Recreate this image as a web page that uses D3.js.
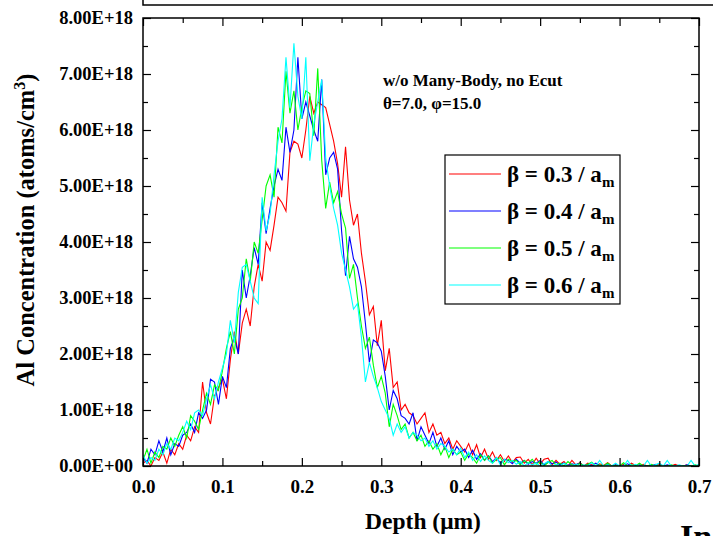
<!DOCTYPE html>
<html>
<head>
<meta charset="utf-8">
<script src="https://cdn.jsdelivr.net/npm/d3@7"></script>
<style>
  body { margin: 0; background: #fff; }
  svg { display: block; font-family: "Liberation Serif", "Times New Roman", serif; font-weight: bold; }
  .tick line { stroke: #000; stroke-width: 1.2; }
</style>
</head>
<body>
<div id="chart"></div>
<script>
// depth grid step (um); value i sits at depth i * depthStep
const depthStep = 0.005;

// Al concentration, units of 1E18 atoms/cm3
const beta03 = [0.05, 0.1, 0.0, 0.15, 0.1, 0.25, 0.05, 0.3, 0.2, 0.4,
  0.3, 0.55, 0.45, 0.7, 0.6, 1.5, 0.95, 0.75, 1.25, 1.4,
  1.55, 1.2, 1.9, 2.4, 2.0, 2.55, 2.8, 2.5, 3.2, 3.6,
  3.3, 4.0, 3.85, 4.3, 4.8, 4.7, 4.55, 5.6, 5.8, 5.75,
  5.5, 6.0, 6.6, 6.3, 6.5, 6.45, 6.4, 6.1, 5.8, 5.4,
  4.8, 5.7, 4.75, 4.3, 4.5, 3.8, 3.3, 2.7, 2.85, 2.15,
  2.6, 1.7, 2.1, 1.4, 1.5, 1.0, 1.1, 0.95, 0.9, 0.75,
  0.85, 0.95, 0.6, 0.75, 0.55, 0.6, 0.4, 0.5, 0.3, 0.45,
  0.35, 0.25, 0.4, 0.2, 0.38, 0.15, 0.3, 0.12, 0.25, 0.1,
  0.2, 0.08, 0.18, 0.06, 0.15, 0.16, 0.05, 0.12, 0.02, 0.14,
  0.04, 0.12, 0.14, 0.02, 0.1, 0.03, 0.08, 0.0, 0.1, 0.02,
  0.06, 0.0, 0.05, 0.02, 0.0, 0.04, 0.01, 0.06, 0.0, 0.02,
  0.0, 0.03, 0.0, 0.05, 0.01, 0.0, 0.03, 0.0, 0.02, 0.0,
  0.04, 0.0, 0.01, 0.0, 0.03, 0.0, 0.0, 0.02, 0.0, 0.01, 0.0];

const beta04 = [0.15, 0.05, 0.3, 0.2, 0.45, 0.25, 0.5, 0.2, 0.4, 0.35,
  0.55, 0.6, 0.75, 0.6, 0.95, 0.85, 1.0, 1.55, 1.5, 1.1,
  1.6, 1.4, 2.1, 2.3, 2.0, 3.5, 3.0, 3.4, 3.9, 3.6,
  4.7, 4.15, 4.6, 5.0, 5.3, 5.1, 6.05, 5.6, 6.0, 7.3,
  6.2, 6.5, 6.25, 6.0, 5.8, 6.9, 5.2, 5.5, 5.6, 5.3,
  4.2, 3.4, 4.1, 3.7, 3.55, 3.2, 2.55, 1.85, 2.25, 2.2,
  2.05, 1.6, 1.0, 1.35, 1.2, 0.9, 0.85, 0.75, 0.95, 0.45,
  0.7, 0.55, 0.4, 0.6, 0.35, 0.5, 0.3, 0.45, 0.2, 0.35,
  0.25, 0.3, 0.15, 0.28, 0.12, 0.22, 0.1, 0.18, 0.08, 0.15,
  0.05, 0.12, 0.1, 0.04, 0.12, 0.05, 0.1, 0.03, 0.08, 0.05,
  0.1, 0.02, 0.08, 0.04, 0.07, 0.02, 0.05, 0.01, 0.04, 0.02,
  0.05, 0.0, 0.03, 0.0, 0.05, 0.01, 0.0, 0.03, 0.0, 0.02,
  0.0, 0.01, 0.04, 0.0, 0.0, 0.02, 0.0, 0.01, 0.0, 0.03,
  0.0, 0.0, 0.02, 0.0, 0.01, 0.0, 0.0, 0.02, 0.0, 0.0, 0.01];

const beta05 = [0.1, 0.3, 0.05, 0.25, 0.15, 0.35, 0.3, 0.5, 0.35, 0.55,
  0.7, 0.5, 0.9, 0.8, 0.65, 1.0, 1.3, 1.1, 1.45, 1.35,
  1.7, 2.1, 2.4, 2.0, 2.8, 3.0, 3.7, 3.3, 4.0, 3.8,
  4.4, 5.0, 5.2, 4.8, 6.05, 5.77, 7.05, 6.3, 6.7, 6.0,
  6.4, 6.7, 6.65, 5.9, 7.1, 5.46, 4.6, 5.07, 4.7, 4.9,
  4.5, 4.25, 3.35, 3.6, 3.0, 2.5, 2.1, 2.3, 1.8, 1.4,
  1.6, 1.3, 0.7, 1.1, 0.9, 0.65, 0.75, 0.5, 0.6, 0.45,
  0.55, 0.35, 0.45, 0.3, 0.4, 0.2, 0.35, 0.15, 0.3, 0.2,
  0.25, 0.1, 0.22, 0.15, 0.05, 0.2, 0.1, 0.18, 0.05, 0.12,
  0.15, 0.02, 0.12, 0.08, 0.1, 0.02, 0.1, 0.05, 0.12, 0.03,
  0.08, 0.0, 0.06, 0.1, 0.02, 0.05, 0.0, 0.08, 0.02, 0.0,
  0.05, 0.0, 0.03, 0.07, 0.0, 0.02, 0.0, 0.05, 0.0, 0.01,
  0.0, 0.06, 0.0, 0.02, 0.0, 0.05, 0.0, 0.0, 0.03, 0.0,
  0.01, 0.0, 0.0, 0.02, 0.0, 0.0, 0.01, 0.0, 0.0, 0.02, 0.0];

const beta06 = [0.2, 0.05, 0.15, 0.1, 0.3, 0.2, 0.4, 0.3, 0.5, 0.45,
  0.6, 0.8, 0.65, 0.95, 1.0, 0.9, 1.2, 1.45, 1.2, 1.5,
  1.75, 2.0, 2.6, 2.2, 3.1, 3.55, 3.6, 3.3, 3.0, 2.9,
  4.8, 4.2, 4.5, 5.2, 5.8, 6.2, 7.3, 6.4, 7.55, 6.6,
  6.2, 7.3, 5.45, 6.1, 6.5, 6.9, 5.5, 5.0, 4.6, 4.3,
  3.8, 3.5, 3.2, 2.8, 2.9, 2.3, 1.5, 1.85, 1.6, 1.4,
  1.15, 1.0, 0.85, 0.55, 0.75, 0.6, 0.7, 0.5, 0.6, 0.55,
  0.45, 0.5, 0.35, 0.45, 0.3, 0.4, 0.35, 0.25, 0.3, 0.2,
  0.32, 0.15, 0.25, 0.1, 0.2, 0.08, 0.18, 0.1, 0.05, 0.15,
  0.02, 0.12, 0.06, 0.1, 0.03, 0.08, 0.0, 0.06, 0.02, 0.05,
  0.0, 0.04, 0.08, 0.0, 0.03, 0.0, 0.05, 0.01, 0.0, 0.04,
  0.0, 0.02, 0.0, 0.06, 0.0, 0.1, 0.0, 0.02, 0.0, 0.05,
  0.0, 0.0, 0.1, 0.0, 0.03, 0.0, 0.0, 0.1, 0.0, 0.02,
  0.05, 0.0, 0.1, 0.0, 0.0, 0.02, 0.0, 0.0, 0.1, 0.0, 0.03];

const seriesNames = ["0.3", "0.4", "0.5", "0.6"];
const seriesColours = ["#ff0000", "#0000ff", "#00ff00", "#00ffff"];
const seriesValues = [beta03, beta04, beta05, beta06];

const xTicks = [0, 0.1, 0.2, 0.3, 0.4, 0.5, 0.6, 0.7];
const yTicks = [0, 1, 2, 3, 4, 5, 6, 7, 8];

const width = 713, height = 536;
const margin = { top: 18, right: 14, bottom: 70, left: 143 };

const svg = d3.select("#chart").append("svg")
  .attr("width", width)
  .attr("height", height);

const x = d3.scaleLinear()
  .domain([0, 0.7])
  .range([margin.left, width - margin.right]);
const y = d3.scaleLinear()
  .domain([0, 8])
  .range([height - margin.bottom, margin.top]);

const plotW = width - margin.right - margin.left;
const plotH = height - margin.bottom - margin.top;

// frame of the panel above, cut off at the top
svg.append("rect")
  .attr("x", margin.left)
  .attr("y", -20)
  .attr("width", 700)
  .attr("height", 25)
  .attr("fill", "none")
  .attr("stroke", "#000")
  .attr("stroke-width", 1.5);

// clip
svg.append("clipPath").attr("id", "plotclip")
  .append("rect")
  .attr("x", margin.left)
  .attr("y", margin.top)
  .attr("width", plotW)
  .attr("height", plotH);

// lines
const line = d3.line()
  .x(function(d, i) { return x(i * depthStep); })
  .y(function(d) { return y(d); });

const lineGroup = svg.append("g").attr("clip-path", "url(#plotclip)");
seriesValues.forEach(function(vals, k) {
  lineGroup.append("path")
    .datum(vals)
    .attr("d", line)
    .attr("fill", "none")
    .attr("stroke", seriesColours[k])
    .attr("stroke-width", 1.1)
    .attr("stroke-linejoin", "miter");
});

// axes
const xMinor = d3.range(0.05, 0.7, 0.1);
const yMinor = d3.range(0.5, 8, 1);

function yFormat(d) {
  return d === 0 ? "0.00E+00" : d.toFixed(2) + "E+18";
}

const xAxis = svg.append("g")
  .attr("transform", "translate(0," + (height - margin.bottom) + ")")
  .call(d3.axisBottom(x).tickValues(xTicks).tickSizeInner(-8).tickSizeOuter(0).tickPadding(14)
    .tickFormat(d3.format(".1f")));
svg.append("g")
  .attr("transform", "translate(0," + (height - margin.bottom) + ")")
  .call(d3.axisBottom(x).tickValues(xMinor).tickSizeInner(-5).tickSizeOuter(0).tickFormat(""));

svg.append("g")
  .attr("transform", "translate(0," + margin.top + ")")
  .call(d3.axisTop(x).tickValues(xTicks).tickSizeInner(-8).tickSizeOuter(0).tickFormat(""));
svg.append("g")
  .attr("transform", "translate(0," + margin.top + ")")
  .call(d3.axisTop(x).tickValues(xMinor).tickSizeInner(-5).tickSizeOuter(0).tickFormat(""));

const yAxis = svg.append("g")
  .attr("transform", "translate(" + margin.left + ",0)")
  .call(d3.axisLeft(y).tickValues(yTicks).tickSizeInner(-8).tickSizeOuter(0).tickPadding(10)
    .tickFormat(yFormat));
svg.append("g")
  .attr("transform", "translate(" + margin.left + ",0)")
  .call(d3.axisLeft(y).tickValues(yMinor).tickSizeInner(-5).tickSizeOuter(0).tickFormat(""));

svg.append("g")
  .attr("transform", "translate(" + (width - margin.right) + ",0)")
  .call(d3.axisRight(y).tickValues(yTicks).tickSizeInner(-8).tickSizeOuter(0).tickFormat(""));
svg.append("g")
  .attr("transform", "translate(" + (width - margin.right) + ",0)")
  .call(d3.axisRight(y).tickValues(yMinor).tickSizeInner(-5).tickSizeOuter(0).tickFormat(""));

svg.selectAll(".domain").remove();

xAxis.selectAll("text")
  .attr("font-family", "Liberation Serif, serif")
  .attr("font-weight", "bold")
  .attr("font-size", 19)
  .attr("fill", "#000");
yAxis.selectAll("text")
  .attr("font-family", "Liberation Serif, serif")
  .attr("font-weight", "bold")
  .attr("font-size", 18.5)
  .attr("fill", "#000");

// plot frame
svg.append("rect")
  .attr("x", margin.left)
  .attr("y", margin.top)
  .attr("width", plotW)
  .attr("height", plotH)
  .attr("fill", "none")
  .attr("stroke", "#000")
  .attr("stroke-width", 1.5);

// axis titles
svg.append("text")
  .attr("x", 423)
  .attr("y", 529)
  .attr("text-anchor", "middle")
  .attr("font-size", 23.5)
  .text("Depth (\u03bcm)");

const yTitle = svg.append("text")
  .attr("transform", "translate(34," + 230 + ") rotate(-90)")
  .attr("text-anchor", "middle")
  .attr("font-size", 24.5);
yTitle.append("tspan").text("Al Concentration (atoms/cm");
yTitle.append("tspan").attr("font-size", 16).attr("dy", -9).text("3");
yTitle.append("tspan").attr("dy", 9).text(")");

// annotation
svg.append("text")
  .attr("x", 383)
  .attr("y", 86)
  .attr("font-size", 17)
  .text("w/o Many-Body, no Ecut");
svg.append("text")
  .attr("x", 383)
  .attr("y", 109)
  .attr("font-size", 17)
  .text("\u03b8=7.0, \u03c6=15.0");

// legend
const legend = svg.append("g");
legend.append("rect")
  .attr("x", 445)
  .attr("y", 155)
  .attr("width", 175)
  .attr("height", 149)
  .attr("fill", "#fff")
  .attr("stroke", "#000")
  .attr("stroke-width", 1.2);

seriesNames.forEach(function(name, k) {
  const ly = 174 + k * 37;
  legend.append("line")
    .attr("x1", 449)
    .attr("x2", 501)
    .attr("y1", ly)
    .attr("y2", ly)
    .attr("stroke", seriesColours[k])
    .attr("stroke-width", 1.2);
  const t = legend.append("text")
    .attr("x", 507)
    .attr("y", ly + 8)
    .attr("font-size", 23);
  t.append("tspan").text("\u03b2 = " + name + " / a");
  t.append("tspan").attr("font-size", 15).attr("dy", 5).text("m");
});

// fragment of the next heading, cut off at the bottom
svg.append("text")
  .attr("x", 680)
  .attr("y", 548)
  .attr("font-size", 34)
  .text("In");
</script>
</body>
</html>
